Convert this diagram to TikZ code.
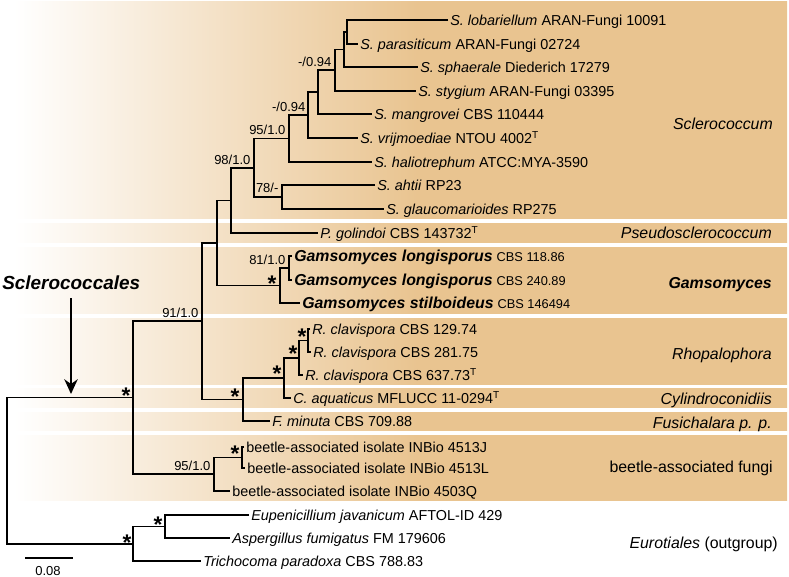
\documentclass[tikz,border=0pt]{standalone}
\usepackage{fontspec}
\setmainfont{Liberation Sans}
\usetikzlibrary{arrows.meta}
\definecolor{bandtan}{RGB}{233,196,144}
\pgfdeclarehorizontalshading{bandshade}{100bp}{color(0bp)=(white); color(25.9bp)=(white); color(51.5bp)=(bandtan); color(100bp)=(bandtan)}
\newcommand{\gnamefont}{\bfseries\itshape\fontsize{11.9}{13}\selectfont}
\newcommand{\gstrain}[1]{{\fontsize{9.6}{11}\selectfont #1}}
\begin{document}
\begin{tikzpicture}[x=0.75pt,y=-0.75pt,
  br/.style={line width=1.3pt, line join=miter},
  leaf/.style={anchor=west, inner sep=1.5pt, text height=8.6pt, text depth=0pt, font=\fontsize{10.8}{12}\selectfont},
  supp/.style={anchor=south east, inner sep=1pt, font=\fontsize{9.75}{10}\selectfont},
  star/.style={anchor=base, inner sep=0pt, font=\bfseries\fontsize{17}{17}\selectfont},
  clade/.style={anchor=east, inner sep=0pt, text height=8.6pt, text depth=0pt, font=\fontsize{11.9}{13}\selectfont},
  bigarrow/.style={line width=1.6pt, -{Stealth[length=11pt, width=10pt, inset=3.5pt]}}
]
\useasboundingbox (0,0) rectangle (789,577);
% background bands
\shade[shading=bandshade] (0,2) rectangle (787,500);
\foreach \a/\b in {219/223, 243.5/247.5, 314/318.5, 384.5/388, 408/412, 431/435}
  \fill[white] (0,\a) rectangle (789,\b);

% leaves
\node[leaf] (l1) at (448,20) {\textit{S. lobariellum} ARAN-Fungi 10091};
\node[leaf] (l2) at (358,44) {\textit{S. parasiticum} ARAN-Fungi 02724};
\node[leaf] (l3) at (418,67) {\textit{S. sphaerale} Diederich 17279};
\node[leaf] (l4) at (416,91) {\textit{S. stygium} ARAN-Fungi 03395};
\node[leaf] (l5) at (372,114) {\textit{S. mangrovei} CBS 110444};
\node[leaf] (l6) at (358,138) {\textit{S. vrijmoediae} NTOU 4002\textsuperscript{T}};
\node[leaf] (l7) at (372,162) {\textit{S. haliotrephum} ATCC:MYA-3590};
\node[leaf] (l8) at (375,185) {\textit{S. ahtii} RP23};
\node[leaf] (l9) at (384,209) {\textit{S. glaucomarioides} RP275};
\node[leaf] (l10) at (318,233) {\textit{P. golindoi} CBS 143732\textsuperscript{T}};
\node[leaf] (l11) at (292,256) {{\gnamefont Gamsomyces longisporus} \gstrain{CBS 118.86}};
\node[leaf] (l12) at (292,280) {{\gnamefont Gamsomyces longisporus} \gstrain{CBS 240.89}};
\node[leaf] (l13) at (300,303) {{\gnamefont Gamsomyces stilboideus} \gstrain{CBS 146494}};
\node[leaf] (l14) at (310,329) {\textit{R. clavispora} CBS 129.74};
\node[leaf] (l15) at (311,352) {\textit{R. clavispora} CBS 281.75};
\node[leaf] (l16) at (303,375) {\textit{R. clavispora} CBS 637.73\textsuperscript{T}};
\node[leaf] (l17) at (291,398) {\textit{C. aquaticus} MFLUCC 11-0294\textsuperscript{T}};
\node[leaf] (l18) at (270,421) {\textit{F. minuta} CBS 709.88};
\node[leaf] (l19) at (244,447) {beetle-associated isolate INBio 4513J};
\node[leaf] (l20) at (245,468) {beetle-associated isolate INBio 4513L};
\node[leaf] (l21) at (230,491) {beetle-associated isolate INBio 4503Q};
\node[leaf] (l22) at (249,515) {\textit{Eupenicillium javanicum} AFTOL-ID 429};
\node[leaf] (l23) at (230,538) {\textit{Aspergillus fumigatus} FM 179606};
\node[leaf] (l24) at (201,561) {\textit{Trichocoma paradoxa} CBS 788.83};

% internal nodes
\coordinate (A) at (347,32);
\coordinate (B) at (344,49.5);
\coordinate (C) at (335,70);
\coordinate (D) at (318,92);
\coordinate (E) at (308,115);
\coordinate (F) at (289,138.5);
\coordinate (H) at (282,197);
\coordinate (G) at (254,168);
\coordinate (I) at (231,200.5);
\coordinate (Gl) at (289,268);
\coordinate (Gs) at (280,285.5);
\coordinate (J) at (217,243);
\coordinate (O) at (308,340.5);
\coordinate (N) at (299,358);
\coordinate (M) at (284,378);
\coordinate (L) at (243,399.5);
\coordinate (K) at (202,321);
\coordinate (P) at (242,457.5);
\coordinate (Q) at (214,474);
\coordinate (R) at (133,397.5);
\coordinate (S) at (165,526.5);
\coordinate (T) at (133,544);
\coordinate (root) at (7,471);

% branches
\draw[br] (l1.west) -| (A) |- (l2.west);
\draw[br] (A) -| (B) |- (l3.west);
\draw[br] (B) -| (C) |- (l4.west);
\draw[br] (C) -| (D) |- (l5.west);
\draw[br] (D) -| (E) |- (l6.west);
\draw[br] (E) -| (F) |- (l7.west);
\draw[br] (l8.west) -| (H) |- (l9.west);
\draw[br] (F) -| (G) |- (H);
\draw[br] (G) -| (I) |- (l10.west);
\draw[br] (l11.west) -| (Gl) |- (l12.west);
\draw[br] (Gl) -| (Gs) |- (l13.west);
\draw[br] (I) -| (J) |- (Gs);
\draw[br] (l14.west) -| (O) |- (l15.west);
\draw[br] (O) -| (N) |- (l16.west);
\draw[br] (N) -| (M) |- (l17.west);
\draw[br] (M) -| (L) |- (l18.west);
\draw[br] (J) -| (K) |- (L);
\draw[br] (l19.west) -| (P) |- (l20.west);
\draw[br] (P) -| (Q) |- (l21.west);
\draw[br] (K) -| (R) |- (Q);
\draw[br] (l22.west) -| (S) |- (l23.west);
\draw[br] (S) -| (T) |- (l24.west);
\draw[br] (R) -| (root) |- (T);

% support values
\node[supp] (sC) at ([shift={(-2,-2)}]C) {-/0.94};
\node[supp] (sE) at ([shift={(-1,-2)}]E) {-/0.94};
\node[supp] (sF) at ([shift={(-2,-2)}]F) {95/1.0};
\node[supp] (sG) at ([shift={(-2,-2)}]G) {98/1.0};
\node[supp] (sH) at ([shift={(-2,-3)}]H) {78/-};
\node[supp] (sGl) at ([shift={(-2,-2)}]Gl) {81/1.0};
\node[supp] (sK) at ([shift={(-2,-2)}]K) {91/1.0};
\node[supp] (sQ) at ([shift={(-2,-2)}]Q) {95/1.0};

% asterisks
\node[star] (tGs) at ([shift={(-8,6)}]Gs) {*};
\node[star] (tO) at ([shift={(-6,4)}]O) {*};
\node[star] (tN) at ([shift={(-6,4)}]N) {*};
\node[star] (tM) at ([shift={(-7,4)}]M) {*};
\node[star] (tL) at ([shift={(-8,5)}]L) {*};
\node[star] (tR) at ([shift={(-7,6)}]R) {*};
\node[star] (tP) at ([shift={(-7,4)}]P) {*};
\node[star] (tS) at ([shift={(-7,6)}]S) {*};
\node[star] (tT) at ([shift={(-6,6)}]T) {*};

% clade labels
\node[clade] (cScl) at (773,124) {\itshape Sclerococcum};
\node[clade] (cPse) at (772,233) {\itshape Pseudosclerococcum};
\node[clade] (cGam) at (772,283) {\bfseries\itshape Gamsomyces};
\node[clade] (cRho) at (772,354) {\itshape Rhopalophora};
\node[clade] (cCyl) at (772,399) {\itshape Cylindroconidiis};
\node[clade] (cFus) at (772,423) {\itshape Fusichalara p. p.};
\node[clade] (cBee) at (773,467) {beetle-associated fungi};
\node[clade] (cEur) at (778,543) {\textit{Eurotiales} (outgroup)};

% order label and arrow
\node[anchor=west, inner sep=0pt, font=\bfseries\itshape\fontsize{14.2}{16}\selectfont] (scl) at (2,283) {Sclerococcales};
\coordinate (arrowtip) at (71,394);
\draw[bigarrow] ([yshift=-6pt]scl.south -| arrowtip) -- (arrowtip);

% scale bar
\coordinate (sb1) at (25,558);
\coordinate (sb2) at (73,558);
\draw[br] (sb1) -- (sb2);
\node[inner sep=0pt, font=\fontsize{9.75}{10}\selectfont] (sbl) at (48,571) {0.08};
\end{tikzpicture}
\end{document}
